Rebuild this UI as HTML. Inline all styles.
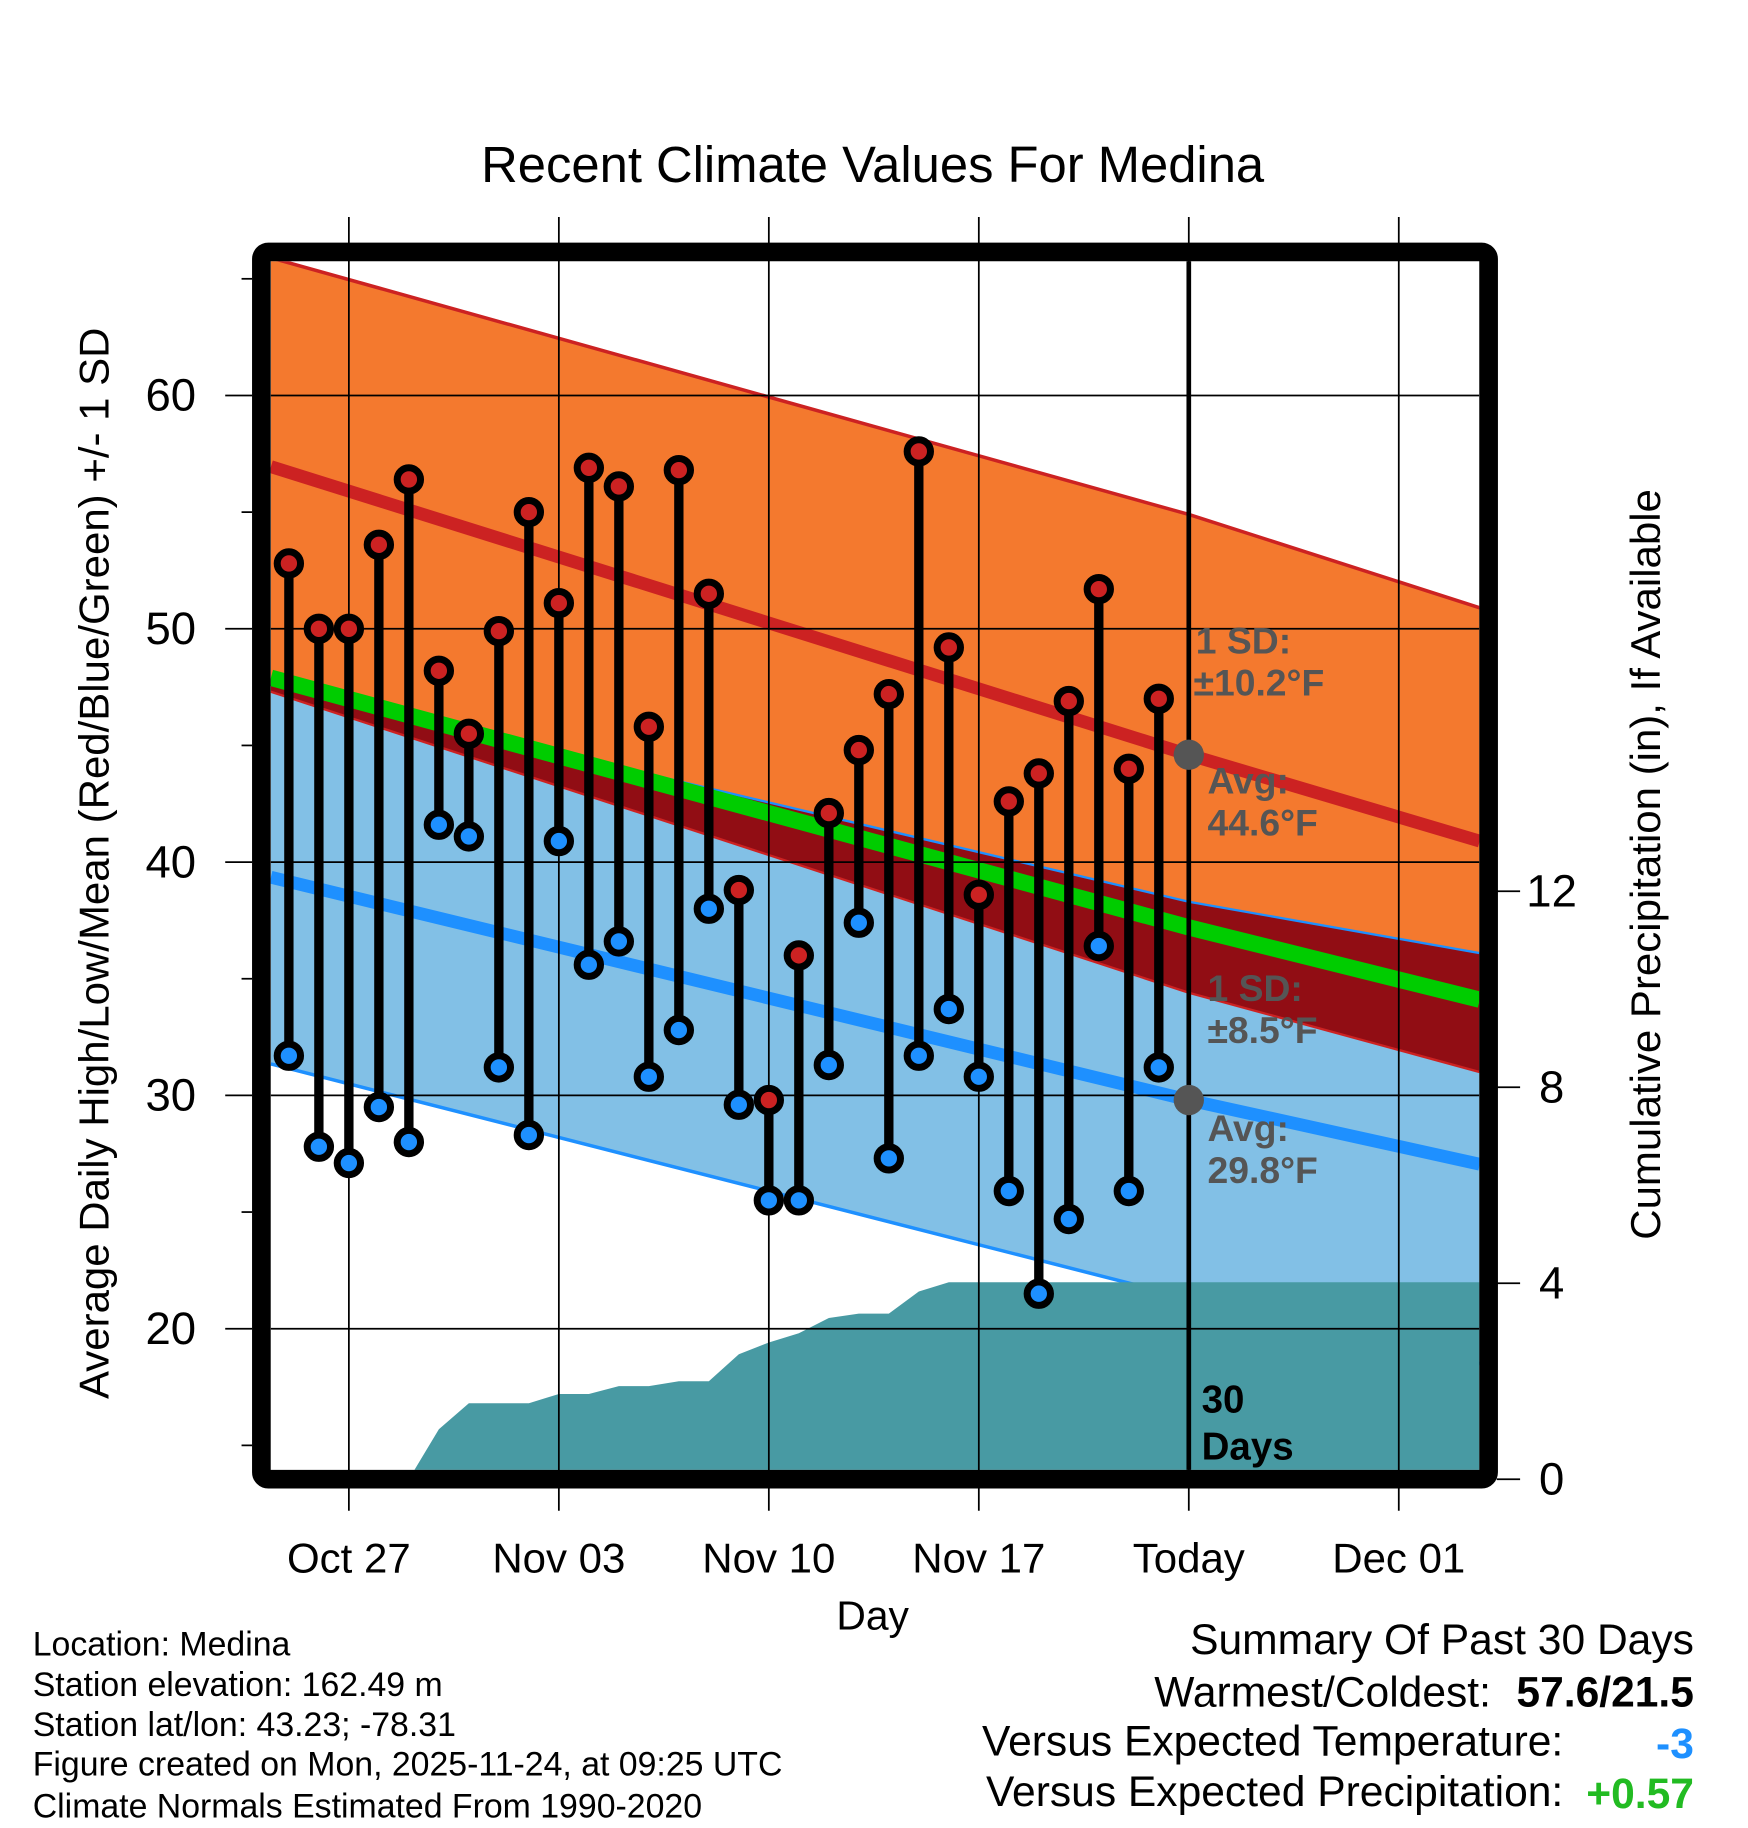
<!DOCTYPE html>
<html><head><meta charset="utf-8"><style>
html,body{margin:0;padding:0;background:#fff}
svg{display:block}
text{font-family:"Liberation Sans",Arial,sans-serif}
</style></head><body>
<svg id="chart" width="1748" height="1828" viewBox="0 0 1498.3 1567" xmlns="http://www.w3.org/2000/svg">
<defs><clipPath id="plotclip"><rect x="232" y="224" width="1036" height="1036"/></clipPath></defs>
<g id="plot" clip-path="url(#plotclip)"></g>
<g id="over"></g>
</svg>
<script>
// ---- data ----
const dayLabels = ["Oct 27","Nov 03","Nov 10","Nov 17","Today","Dec 01"];
const dayTicks = [0,7,14,21,28,35];
const obsDays = [-2,-1,0,1,2,3,4,5,6,7,8,9,10,11,12,13,14,15,16,17,18,19,20,21,22,23,24,25,26,27];
const highs = [52.8,50,50,53.6,56.4,48.2,45.5,49.9,55,51.1,56.9,56.1,45.8,56.8,51.5,38.8,29.8,36,42.1,44.8,47.2,57.6,49.2,38.6,42.6,43.8,46.9,51.7,44,47];
const lows = [31.7,27.8,27.1,29.5,28,41.6,41.1,31.2,28.3,40.9,35.6,36.6,30.8,32.8,38,29.6,25.5,25.5,31.3,37.4,27.3,31.7,33.7,30.8,25.9,21.5,24.7,36.4,25.9,31.2];
const precip = [0,0,0,0,0,1.02,1.55,1.55,1.55,1.74,1.74,1.9,1.9,2.0,2.0,2.55,2.79,2.98,3.29,3.38,3.38,3.83,4.02,4.02,4.02,4.02,4.02,4.02,4.02,4.02];
const normDays = [-2.6,28,37.7];
const upperHigh = [65.9,54.9,50.9];
const highAvg = [56.95,44.6,40.9];
const lowerHigh = [47.3,34.4,31.0];
const upperLow = [47.6,38.3,36.1];
const meanAvg = [47.9,37.2,34.1];
const lowAvg = [39.35,29.8,27.05];
const lowerLow = [31.35,21.3,18.5];
const yTicks = [20,30,40,50,60];
const yMinor = [15,25,35,45,55,65];
const pTicks = [0,4,8,12];
// ---- axes ----
const X = d => 299 + d*180/7;
const Y = v => 339 + (60-v)*20;
const P = p => 1268 - p*42;
const NS = "http://www.w3.org/2000/svg";
function mk(parent, tag, attrs){const e=document.createElementNS(NS,tag);for(const k in attrs)e.setAttribute(k,attrs[k]);parent.appendChild(e);return e;}
const svg=document.getElementById('chart'), plot=document.getElementById('plot'), over=document.getElementById('over');
const linePts = arr => normDays.map((d,i)=>X(d)+","+Y(arr[i]));
function band(a,b,fill,name){
  const pts=linePts(a).concat(linePts(b).reverse()).join(" ");
  const e=mk(plot,'polygon',{points:pts,fill:fill});
  
  
}
function line(arr,stroke,w,name){
  const e=mk(plot,'polyline',{points:linePts(arr).join(" "),fill:'none',stroke:stroke,'stroke-width':w});
  
  
}
band(upperHigh,lowerHigh,'#f4792e','high-sd-band');
band(upperLow,lowerLow,'#82c0e6','low-sd-band');
band(upperLow,lowerHigh,'#910d14','overlap-band');
line(upperHigh,'#cc2222',3,'upper-high-line');
line(lowerHigh,'#cc2222',2,'lower-high-line');
line(upperLow,'#1e90ff',2,'upper-low-line');
line(lowerLow,'#1e90ff',3,'lower-low-line');
// precip area
{
  let pts=[X(obsDays[0])+","+P(0)];
  obsDays.forEach((d,i)=>pts.push(X(d)+","+P(precip[i])));
  pts.push(X(40)+","+P(precip[precip.length-1]));
  pts.push(X(40)+","+P(-1)); pts.push(X(-3)+","+P(-1));
  const e=mk(plot,'polygon',{points:pts.join(" "),fill:'#489aa3'});
  
  
}
line(meanAvg,'#00cc00',14,'mean-normal-line');
line(highAvg,'#cc2222',11,'high-normal-line');
line(lowAvg,'#1e90ff',11,'low-normal-line');
// grid
yTicks.forEach(v=>{const e=mk(plot,'line',{x1:232,x2:1268,y1:Y(v),y2:Y(v),stroke:'#000','stroke-width':1.5});
  
  });
dayTicks.forEach((d,i)=>{const e=mk(over,'line',{x1:X(d),x2:X(d),y1:186,y2:1295,stroke:'#000','stroke-width':1.5});
  
  
  const t=mk(over,'text',{x:X(d),y:1348,'font-size':36,'text-anchor':'middle',fill:'#000'});t.textContent=dayLabels[i];
  
  });
// today line
{const e=mk(over,'line',{x1:X(28),x2:X(28),y1:224,y2:1260,stroke:'#000','stroke-width':4});
 
 }
// stems & markers
obsDays.forEach((d,i)=>{
  const s=mk(over,'line',{x1:X(d),x2:X(d),y1:Y(highs[i]),y2:Y(lows[i]),stroke:'#000','stroke-width':8});
  
  
  const h=mk(over,'circle',{cx:X(d),cy:Y(highs[i]),r:10,fill:'#cc2222',stroke:'#000','stroke-width':6});
  
  
  const l=mk(over,'circle',{cx:X(d),cy:Y(lows[i]),r:10,fill:'#1e90ff',stroke:'#000','stroke-width':6});
  
  
});
// today dots
[[highAvg[1],'today-high-avg-dot'],[lowAvg[1],'today-low-avg-dot']].forEach(a=>{
  const c=mk(over,'circle',{cx:X(28),cy:Y(a[0]),r:13,fill:'#555'});
  
  });
// frame
{const e=mk(over,'rect',{x:224,y:216,width:1052,height:1052,rx:6,fill:'none',stroke:'#000','stroke-width':16});
 
 }
// y ticks
yTicks.forEach(v=>{mk(over,'line',{x1:193,x2:216,y1:Y(v),y2:Y(v),stroke:'#000','stroke-width':1.5});
  const t=mk(over,'text',{x:168,y:Y(v)+13,'font-size':39,'text-anchor':'end'});t.textContent=v;
  
  });
yMinor.forEach(v=>mk(over,'line',{x1:207,x2:216,y1:Y(v),y2:Y(v),stroke:'#000','stroke-width':1.5}));
pTicks.forEach(p=>{mk(over,'line',{x1:1283,x2:1303,y1:P(p),y2:P(p),stroke:'#000','stroke-width':1.5});
  const t=mk(over,'text',{x:1330,y:P(p)+13,'font-size':39,'text-anchor':'middle'});t.textContent=p;
  
  });
</script>
<svg style="position:absolute;left:0;top:0" width="1748" height="1828" viewBox="0 0 1498.3 1567" xmlns="http://www.w3.org/2000/svg">
<g font-family="Liberation Sans, Arial, sans-serif">
<text x="748" y="156" font-size="43.5" text-anchor="middle">Recent Climate Values For Medina</text>
<text transform="translate(93,740) rotate(-90)" font-size="36" text-anchor="middle">Average Daily High/Low/Mean (Red/Blue/Green) +/- 1 SD</text>
<text transform="translate(1423,741) rotate(-90)" font-size="36" text-anchor="middle">Cumulative Precipitation (in), If Available</text>
<text x="748" y="1397" font-size="35" text-anchor="middle">Day</text>
<g font-weight="bold" fill="#555" font-size="32">
<text x="1025" y="560">1 SD:</text>
<text x="1023" y="596">±10.2°F</text>
<text x="1035" y="680">Avg:</text>
<text x="1035" y="716">44.6°F</text>
<text x="1035" y="858">1 SD:</text>
<text x="1035" y="894">±8.5°F</text>
<text x="1035" y="978">Avg:</text>
<text x="1035" y="1014">29.8°F</text>
</g>
<g font-weight="bold" fill="#000" font-size="33">
<text x="1030" y="1211">30</text>
<text x="1030" y="1251">Days</text>
</g>
<g font-size="29" fill="#000">
<text x="28" y="1419">Location: Medina</text>
<text x="28" y="1454">Station elevation: 162.49 m</text>
<text x="28" y="1488">Station lat/lon: 43.23; -78.31</text>
<text x="28" y="1522">Figure created on Mon, 2025-11-24, at 09:25 UTC</text>
<text x="28" y="1558">Climate Normals Estimated From 1990-2020</text>
</g>
<g font-size="36.5" fill="#000">
<text x="1452" y="1418" text-anchor="end">Summary Of Past 30 Days</text>
<text x="1278" y="1463" text-anchor="end">Warmest/Coldest:</text>
<text x="1452" y="1463" text-anchor="end" font-weight="bold">57.6/21.5</text>
<text x="1340" y="1505" text-anchor="end">Versus Expected Temperature:</text>
<text x="1452" y="1507" text-anchor="end" font-weight="bold" fill="#1e90ff">-3</text>
<text x="1340" y="1548" text-anchor="end">Versus Expected Precipitation:</text>
<text x="1452" y="1550" text-anchor="end" font-weight="bold" fill="#22bb22">+0.57</text>
</g>
</g>
</svg>
</body></html>
